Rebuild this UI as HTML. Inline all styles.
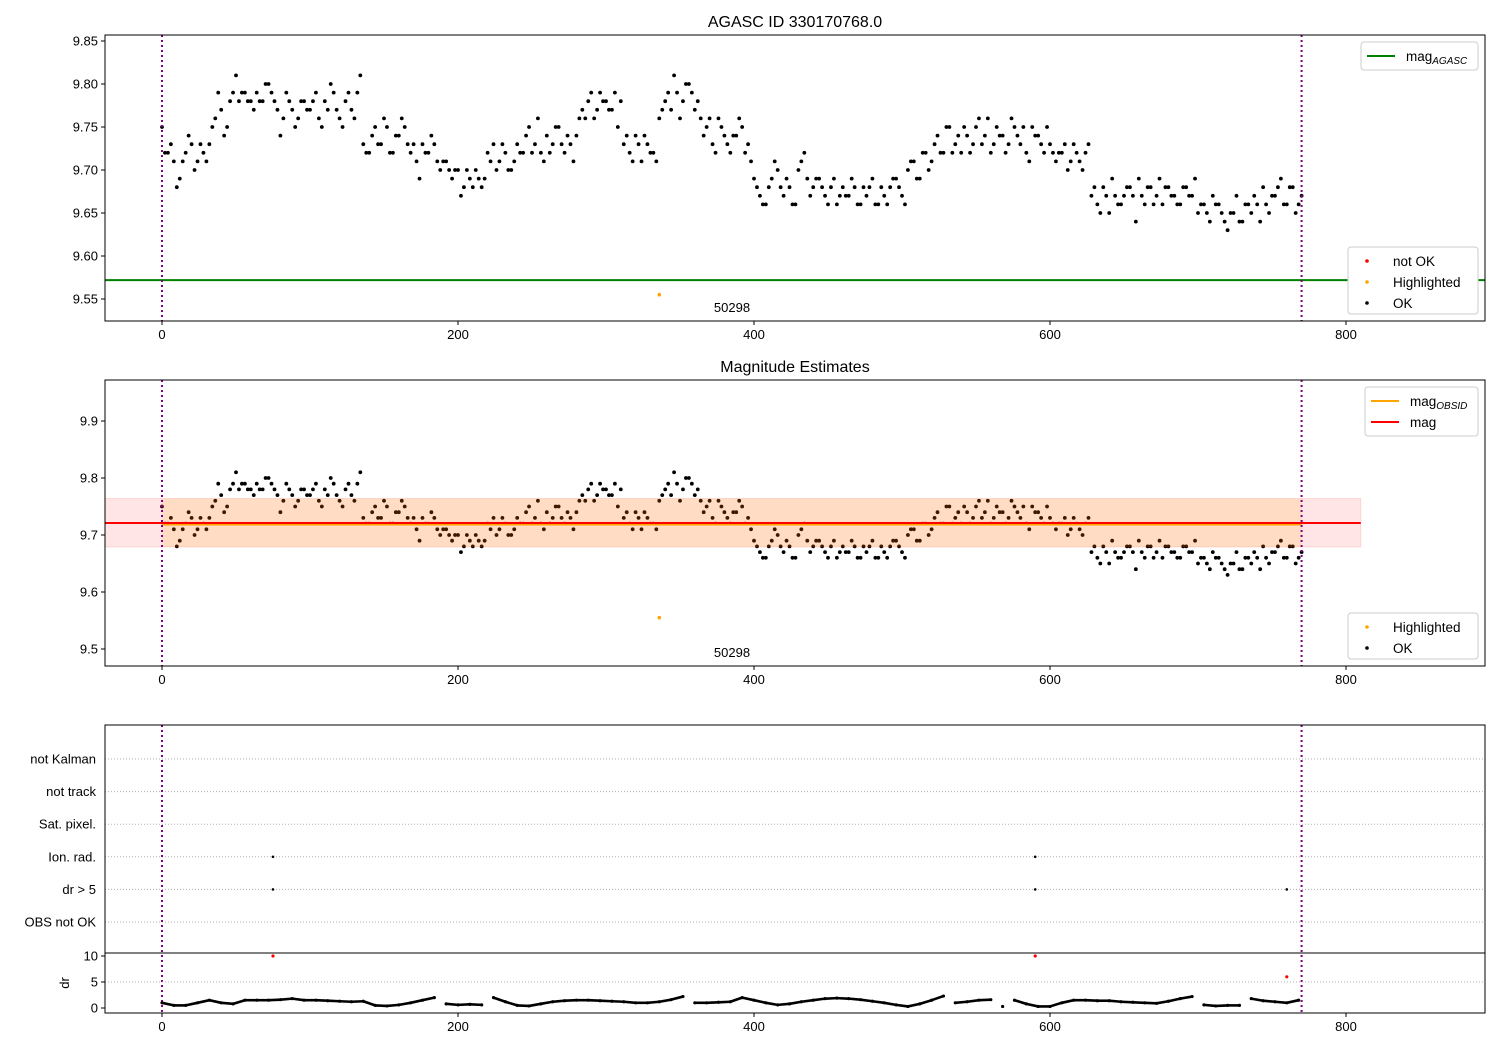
<!DOCTYPE html>
<html><head><meta charset="utf-8"><style>
body{margin:0;background:#fff;}
svg{display:block;font-family:"Liberation Sans","DejaVu Sans",sans-serif;}
</style></head><body>
<svg id="c" width="1500" height="1050" xmlns="http://www.w3.org/2000/svg"></svg>
<script>
const xStep = 4;
const magValues = [9.75,9.72,9.71,9.69,9.72,9.73,9.71,9.72,9.73,9.76,9.77,9.75,9.79,9.78,9.79,9.78,9.79,9.78,9.80,9.78,9.74,9.79,9.77,9.76,9.78,9.77,9.79,9.75,9.77,9.79,9.76,9.78,9.77,9.79,9.73,9.72,9.75,9.73,9.75,9.72,9.74,9.75,9.72,9.71,9.73,9.72,9.73,9.70,9.71,9.69,9.70,9.68,9.69,9.70,9.68,9.72,9.73,9.71,9.72,9.70,9.73,9.72,9.75,9.73,9.72,9.74,9.73,9.75,9.72,9.73,9.74,9.77,9.78,9.76,9.79,9.78,9.77,9.75,9.73,9.72,9.74,9.71,9.73,9.72,9.76,9.78,9.77,9.79,9.78,9.80,9.77,9.76,9.75,9.73,9.76,9.74,9.72,9.74,9.75,9.73,9.69,9.67,9.66,9.69,9.70,9.67,9.68,9.66,9.71,9.69,9.68,9.69,9.67,9.68,9.66,9.68,9.67,9.68,9.66,9.67,9.69,9.66,9.67,9.68,9.69,9.67,9.70,9.71,9.69,9.72,9.71,9.74,9.72,9.75,9.73,9.72,9.74,9.73,9.76,9.74,9.72,9.75,9.74,9.73,9.75,9.73,9.72,9.75,9.74,9.72,9.73,9.71,9.72,9.70,9.73,9.71,9.72,9.67,9.66,9.68,9.65,9.67,9.66,9.68,9.67,9.69,9.66,9.68,9.67,9.66,9.68,9.67,9.66,9.68,9.67,9.65,9.66,9.64,9.66,9.65,9.63,9.65,9.64,9.66,9.65,9.66,9.68,9.65,9.67,9.69,9.66,9.68,9.66];
const magValuesOdd = [9.72,9.73,9.68,9.71,9.74,9.70,9.73,9.71,9.75,9.79,9.74,9.78,9.81,9.79,9.78,9.77,9.78,9.80,9.79,9.77,9.76,9.78,9.75,9.78,9.77,9.78,9.76,9.78,9.80,9.77,9.75,9.79,9.76,9.81,9.72,9.74,9.73,9.76,9.72,9.74,9.76,9.73,9.73,9.69,9.72,9.74,9.71,9.71,9.70,9.70,9.67,9.70,9.68,9.69,9.69,9.71,9.70,9.73,9.70,9.71,9.72,9.74,9.72,9.76,9.71,9.72,9.75,9.73,9.74,9.71,9.76,9.76,9.79,9.77,9.78,9.77,9.79,9.78,9.74,9.71,9.73,9.74,9.72,9.71,9.77,9.79,9.81,9.76,9.80,9.79,9.78,9.74,9.76,9.72,9.75,9.73,9.74,9.76,9.72,9.71,9.68,9.66,9.68,9.71,9.68,9.69,9.66,9.70,9.72,9.67,9.69,9.68,9.66,9.69,9.67,9.67,9.69,9.66,9.68,9.68,9.66,9.68,9.66,9.69,9.68,9.66,9.71,9.69,9.72,9.70,9.73,9.72,9.75,9.72,9.74,9.75,9.72,9.75,9.73,9.76,9.73,9.74,9.72,9.76,9.74,9.75,9.71,9.74,9.73,9.75,9.72,9.72,9.73,9.71,9.72,9.70,9.73,9.68,9.65,9.67,9.69,9.66,9.67,9.68,9.64,9.67,9.68,9.66,9.69,9.68,9.67,9.66,9.68,9.67,9.69,9.66,9.65,9.67,9.66,9.64,9.65,9.67,9.64,9.66,9.67,9.64,9.66,9.67,9.68,9.66,9.68,9.65,9.67];
const highlightX = [336];
const highlightMag = [9.555];
const agascMag = 9.572;
const obsMag = 9.721;
const obsLow = 9.679;
const obsHigh = 9.764;
const drStep = 8;
const drValues = [1,0.5,0.5,1,1.5,1,0.8,1.5,1.5,1.5,1.6,1.8,1.5,1.5,1.4,1.3,1.2,1.3,0.5,0.4,0.6,1,1.5,2,0.8,0.6,0.7,0.6,2,1.2,0.5,0.4,0.8,1.2,1.4,1.5,1.5,1.4,1.3,1.2,1,1,1.2,1.6,2.2,1,1,1.1,1.2,2,1.5,1,0.6,0.8,1.2,1.5,1.8,1.9,1.8,1.6,1.3,1,0.6,0.3,0.8,1.5,2.3,1,1.2,1.5,1.6,0.3,1.5,0.8,0.3,0.3,1,1.5,1.5,1.4,1.4,1.2,1.1,1,0.9,1.3,1.8,2.2,0.6,0.4,0.5,0.5,1.8,1.4,1.2,1,1.5];
const badX = [75,590,760];
const badDr = [10,10,6];
const flagCats = ["not Kalman","not track","Sat. pixel.","Ion. rad.","dr > 5","OBS not OK"];
const flagX = [75,590,75,590,760];
const flagCat = [3,3,4,4,4];
const xTicks = [0,200,400,600,800];
const y1Ticks = [9.55,9.60,9.65,9.70,9.75,9.80,9.85];
const y2Ticks = [9.5,9.6,9.7,9.8,9.9];
const drTicks = [0,5,10];

const svg = document.getElementById('c');
const NS = 'http://www.w3.org/2000/svg';
function el(tag, attrs, parent){const e=document.createElementNS(NS,tag);for(const k in attrs)e.setAttribute(k,attrs[k]);(parent||svg).appendChild(e);return e;}
function txt(s, attrs, parent){const e=el('text',attrs,parent);e.textContent=s;return e;}
const L=105,R=1485;
const X = v => 162 + v*1.48;
const Y1 = v => 41 + (9.85-v)*860;
const Y2 = v => 421 + (9.9-v)*570;
const Yc = i => 759 + i*32.6;
const Yd = v => 1008 - v*5.2;

function frame(top,bot,name){const r=el('rect',{x:L,y:top,width:R-L,height:bot-top,fill:'none',stroke:'#000','stroke-width':1});
}
function xaxis(bot,name){const g=el('g',{});
xTicks.forEach(t=>{el('line',{x1:X(t),x2:X(t),y1:bot,y2:bot+4,stroke:'#000'},g);txt(String(t),{x:X(t),y:bot+18,'font-size':13,'text-anchor':'middle'},g);});}
function yaxis(ticks,fy,fmt,name){const g=el('g',{});
ticks.forEach(t=>{el('line',{x1:L-4,x2:L,y1:fy(t),y2:fy(t),stroke:'#000'},g);txt(fmt(t),{x:L-7,y:fy(t)+4.5,'font-size':13,'text-anchor':'end'},g);});}
function vlines(top,bot){[0,770].forEach(v=>{const l=el('line',{x1:X(v),x2:X(v),y1:top,y2:bot,stroke:'#800080','stroke-width':2,'stroke-dasharray':'2,3'});
});}
function dots(fy,name){const g=el('g',{});
magValues.forEach((v,i)=>{el('circle',{cx:X(i*xStep),cy:fy(v),r:1.9,fill:'#000'},g);});
magValuesOdd.forEach((v,i)=>{el('circle',{cx:X(i*xStep+2),cy:fy(v),r:1.9,fill:'#000'},g);});
highlightX.forEach((x,i)=>{el('circle',{cx:X(x),cy:fy(highlightMag[i]),r:1.8,fill:'orange'},g);});}

let t=txt('AGASC ID 330170768.0',{x:795,y:27,'font-size':16,'text-anchor':'middle'});

let gl=el('line',{x1:L,x2:R,y1:Y1(agascMag),y2:Y1(agascMag),stroke:'green','stroke-width':2});

dots(Y1,'mag-points-top');
t=txt('50298',{x:732,y:312,'font-size':13,'text-anchor':'middle'});

vlines(35,321);frame(35,321,'top-axes');xaxis(321,'x-axis-top');
yaxis(y1Ticks,Y1,v=>v.toFixed(2),'y-axis-top');

t=txt('Magnitude Estimates',{x:795,y:372,'font-size':16,'text-anchor':'middle'});

dots(Y2,'mag-points-middle');
let b=el('rect',{x:L,y:Y2(obsHigh),width:X(810)-L,height:Y2(obsLow)-Y2(obsHigh),fill:'rgba(255,0,0,0.1)',stroke:'rgba(255,0,0,0.12)'});

b=el('rect',{x:X(0),y:Y2(obsHigh),width:X(770)-X(0),height:Y2(obsLow)-Y2(obsHigh),fill:'rgba(255,165,0,0.15)'});

let ol=el('line',{x1:X(0),x2:X(770),y1:Y2(obsMag)+1.5,y2:Y2(obsMag)+1.5,stroke:'orange','stroke-width':2});

let rl=el('line',{x1:L,x2:X(810),y1:Y2(obsMag),y2:Y2(obsMag),stroke:'red','stroke-width':2});

t=txt('50298',{x:732,y:657,'font-size':13,'text-anchor':'middle'});

vlines(380,666);frame(380,666,'middle-axes');xaxis(666,'x-axis-middle');
yaxis(y2Ticks,Y2,v=>v.toFixed(1),'y-axis-middle');

flagCats.forEach((c,i)=>{const l=el('line',{x1:L,x2:R,y1:Yc(i),y2:Yc(i),stroke:'#b0b0b0','stroke-dasharray':'1,2'});

const tt=txt(c,{x:L-9,y:Yc(i)+4.5,'font-size':13,'text-anchor':'end'});
});
flagX.forEach((x,i)=>{const c=el('circle',{cx:X(x),cy:Yc(flagCat[i]),r:1.3,fill:'#000'});
});
vlines(725,1013);
frame(725,953,'flags-axes');

[5].forEach(v=>{const l=el('line',{x1:L,x2:R,y1:Yd(v),y2:Yd(v),stroke:'#b0b0b0','stroke-dasharray':'1,2'});});
const dg=el('g',{});
drValues.forEach((v,i)=>{if(i>0){const p=drValues[i-1];if(Math.abs(v-p)<0.9)el('line',{x1:X((i-1)*drStep),y1:Yd(p),x2:X(i*drStep),y2:Yd(v),stroke:'#000','stroke-width':2.6},dg);}
el('circle',{cx:X(i*drStep),cy:Yd(v),r:1.6,fill:'#000'},dg);});
badX.forEach((x,i)=>{el('circle',{cx:X(x),cy:Yd(badDr[i]),r:1.6,fill:'red'},dg);});
frame(953,1013,'dr-axes');xaxis(1013,'x-axis-bottom');
yaxis(drTicks,Yd,v=>String(v),'y-axis-dr');
t=txt('dr',{x:0,y:0,'font-size':13,'text-anchor':'middle',transform:'translate(69,983) rotate(-90)'});


function legend(x,y,w,h,items,name){const g=el('g',{});
el('rect',{x:x,y:y,width:w,height:h,rx:3,fill:'#fff',stroke:'#ccc'},g);
items.forEach((it,i)=>{const cy=y+14+i*21;
if(it.type==='line')el('line',{x1:x+6,x2:x+34,y1:cy,y2:cy,stroke:it.color,'stroke-width':2},g);
else el('circle',{cx:x+19,cy:cy,r:1.8,fill:it.color},g);
const tt=txt(it.label,{x:x+45,y:cy+5,'font-size':13.5},g);
if(it.sub){const ts=document.createElementNS(NS,'tspan');ts.setAttribute('font-size',10);ts.setAttribute('font-style','italic');ts.setAttribute('dy',3);ts.textContent=it.sub;tt.appendChild(ts);}});}
legend(1361,42,117,28,[{type:'line',color:'green',label:'mag',sub:'AGASC'}],'legend-agasc');
legend(1348,247,130,67,[{type:'dot',color:'red',label:'not OK'},{type:'dot',color:'orange',label:'Highlighted'},{type:'dot',color:'#000',label:'OK'}],'legend-status-top');
legend(1365,387,113,49,[{type:'line',color:'orange',label:'mag',sub:'OBSID'},{type:'line',color:'red',label:'mag'}],'legend-mag');
legend(1348,613,130,46,[{type:'dot',color:'orange',label:'Highlighted'},{type:'dot',color:'#000',label:'OK'}],'legend-status-middle');
</script>
</body></html>
